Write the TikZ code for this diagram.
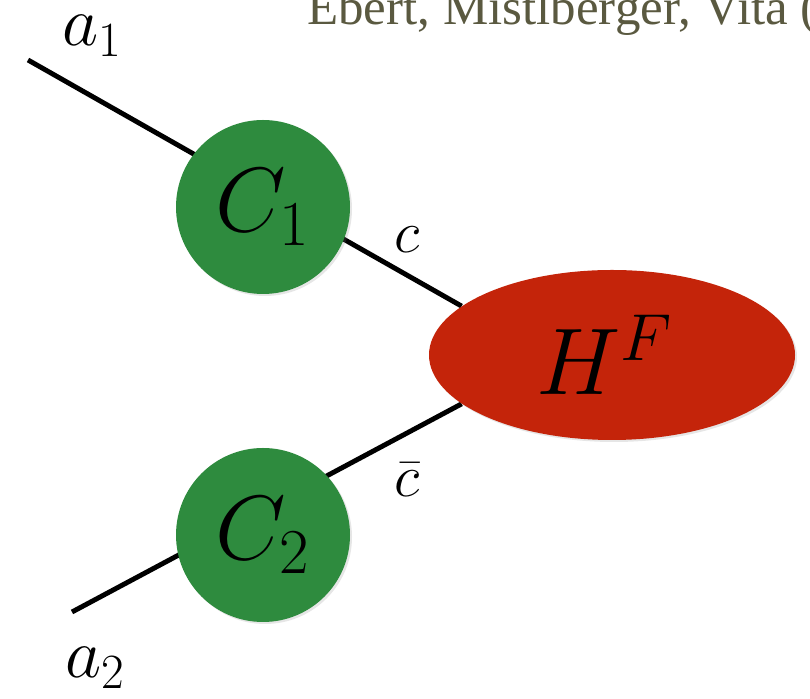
\RequirePackage{fix-cm}
\documentclass[tikz,border=0pt]{standalone}
\usepackage{amsmath}
\usepackage{fontspec}
\newfontfamily\titlefont{Liberation Serif}
\usepackage{xcolor}
\definecolor{blobgreen}{HTML}{2E8B3E}
\definecolor{blobred}{HTML}{C4240A}
\definecolor{titlegray}{HTML}{5A5940}
\usetikzlibrary{positioning,shapes.geometric,shadows,backgrounds}
\tikzset{
  collnode/.style={circle,fill=blobgreen,minimum size=3.48cm,inner sep=0pt,
    drop shadow={opacity=0.2,shadow xshift=0.4mm,shadow yshift=-0.4mm},font=\fontsize{52}{56}\selectfont},
  hardnode/.style={ellipse,fill=blobred,minimum width=7.32cm,minimum height=3.4cm,inner sep=0pt,
    drop shadow={opacity=0.2,shadow xshift=0.4mm,shadow yshift=-0.4mm},font=\fontsize{54}{58}\selectfont},
  legline/.style={line width=2.8pt,black},
  leglabel/.style={font=\fontsize{40}{44}\selectfont},
  flavlabel/.style={font=\fontsize{34}{38}\selectfont}
}

\begin{document}
\begin{tikzpicture}
\useasboundingbox (0,0) rectangle (16.2,13.98);
\clip (0,0) rectangle (16.2,13.98);
\node[anchor=base west,text=titlegray,inner sep=0pt,font=\titlefont\fontsize{29}{33}\selectfont] (ref) at (6.14,13.48) {Ebert, Mistlberger, Vita (2017)};
\node[collnode] (c1) at (5.26,9.84) {$C_1$};
\node[collnode] (c2) at (5.26,3.28) {$C_2$};
\node[hardnode] (hf) at (12.24,6.88) {\hspace*{-0.3cm}$H^F$};
\coordinate (a1) at (0.56,12.78);
\coordinate (a2) at (1.44,1.74);
\node[leglabel] (la1) at (1.84,13.26) {$a_1$};
\node[leglabel] (la2) at (1.9,0.62) {$a_2$};
\node[flavlabel] (lc) at (8.14,9.18) {$c$};
\node[flavlabel] (lcb) at (8.14,4.38) {$\bar{c}$};
\begin{scope}[on background layer]
\draw[legline] (a1) -- (hf.162);
\draw[legline] (a2) -- (hf.198);
\end{scope}
\end{tikzpicture}
\end{document}
